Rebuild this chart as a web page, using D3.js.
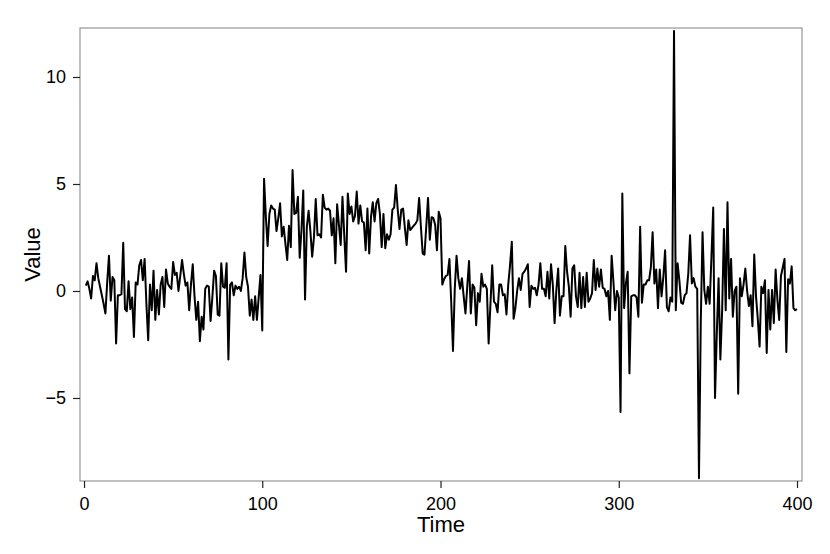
<!DOCTYPE html>
<head>
  <title>Value over Time</title>
  <style>
    body { margin: 0; background: #fff; }
    text { font-family: "Liberation Sans", Arial, sans-serif; }
  </style>
</head>
<body>
  <script src="https://cdn.jsdelivr.net/npm/d3@7"></script>
  <script>
    // values, one array per stretch of 100 time steps
    var seg1 = [0.25, 0.45, 0.1, -0.35, 0.7, 0.5, 1.3, 0.6, 0.2, -0.2,
      -0.6, -1.05, 0.4, 1.65, -0.45, 0.65, 0.5, -2.45, -0.2, -0.2,
      -0.15, 2.25, -0.85, -0.95, 0.45, -0.85, -0.3, -2.15, 0.4, 0.3,
      1.2, 1.45, 0.5, 1.5, -0.6, -2.3, 0.3, -0.9, 0.95, -1.35,
      0.05, -1.1, 0.3, 0.65, -0.75, 1.0, 0.35, 0.2, 0.1, 1.35,
      0.75, 0.85, 0.0, 0.7, 1.45, 0.8, 0.25, 0.4, -0.9, 0.3,
      1.25, -0.25, -1.35, -0.5, -2.35, -1.2, -1.8, 0.1, 0.25, 0.2,
      -1.4, -0.3, 0.95, 0.7, -1.1, -1.15, 1.3, 0.2, 0.15, 1.3,
      -3.2, 0.3, 0.4, -0.2, 0.25, 0.1, 0.2, 0.0, 0.6, 1.8,
      0.65, 0.2, -1.15, -0.4, -1.35, -0.25, -1.35, -0.3, 0.75, -1.85];
    var seg2 = [5.25, 3.5, 2.1, 3.6, 4.0, 3.85, 3.8, 2.8, 3.4, 4.1,
      2.55, 3.0, 2.2, 1.45, 3.05, 2.05, 5.65, 3.6, 3.65, 4.4,
      1.55, 2.85, 4.7, -0.4, 3.0, 3.75, 2.8, 1.6, 2.5, 4.3,
      2.6, 2.65, 2.5, 4.5, 3.9, 3.8, 3.85, 3.75, 2.6, 3.4,
      1.3, 4.05, 3.1, 2.15, 4.4, 2.6, 0.9, 4.55, 3.6, 3.95,
      3.25, 3.5, 4.65, 3.15, 4.0, 3.25, 3.2, 1.9, 3.85, 1.75,
      3.45, 4.15, 3.25, 4.1, 4.3, 3.6, 2.05, 3.6, 2.0, 2.65,
      2.4, 2.65, 3.8, 3.9, 4.95, 3.8, 2.9, 3.8, 3.85, 2.95,
      2.15, 3.3, 2.85, 2.95, 3.05, 3.15, 3.3, 4.35, 3.0, 1.75,
      1.7, 3.0, 4.35, 2.4, 3.45, 3.4, 3.1, 1.9, 3.7, 3.4];
    var seg3 = [0.3, 0.55, 0.7, 0.75, 1.5, -0.5, -2.8, 0.1, 1.65, 0.6,
      0.1, 0.6, -0.25, -1.05, 0.2, 1.4, -1.05, 0.3, 0.15, -1.6,
      -0.1, -0.5, 0.8, 0.2, 0.3, 0.1, -2.45, -0.65, 1.2, -0.5,
      -0.6, -1.0, 0.3, 0.3, -0.2, -0.15, -1.1, 0.3, 1.2, 2.3,
      -1.3, -0.8, 0.0, 0.6, 0.05, 0.8, 0.9, 1.05, 1.25, -0.75,
      0.25, 0.1, 0.15, -0.2, 0.3, 1.3, 0.1, 0.1, -0.25, 0.9,
      -0.35, 1.25, 0.3, -1.5, 0.05, 1.05, -1.15, -0.25, -0.25, 2.1,
      0.9, 0.2, -1.2, 1.05, 1.2, -0.25, -0.75, 0.85, -0.8, 0.65,
      -0.75, 0.85, -0.5, -0.35, -0.1, 1.45, 0.05, 1.05, 0.2, 1.0,
      0.15, 0.1, -0.25, 0.0, -1.35, 1.65, 0.45, -0.9, 0.0, -0.3];
    var seg4 = [-5.65, 4.55, -0.8, 0.35, 0.9, -3.85, -0.25, -0.2, -0.2, -0.3,
      -1.2, 3.0, -0.55, 0.3, 0.3, 0.5, 0.5, 1.1, 2.75, 0.35,
      1.0, -0.8, 1.0, -0.25, 0.65, 1.9, -0.75, -0.95, -0.3, -0.5,
      12.15, -0.9, 1.3, 0.5, -0.55, -0.6, -0.2, -0.1, 0.8, 2.6,
      0.35, 0.6, 0.2, 0.1, -8.75, -1.5, 2.75, 0.05, -0.6, 0.2,
      -0.6, 1.6, 3.9, -5.0, -2.0, 0.6, -3.2, -0.9, 2.9, -0.9,
      4.15, -0.35, 1.5, -1.2, 0.0, 0.2, -4.8, 0.6, -0.25, 0.3,
      1.05, 0.0, -0.7, -0.2, -1.65, 1.7, -0.25, -1.3, -2.6, 0.2,
      -0.1, 0.5, -2.9, 0.05, -1.8, 0.05, -1.5, 1.0, -0.4, -1.35,
      0.7, 1.1, 1.5, -2.85, 0.55, 0.35, 1.15, -0.8, -0.9, -0.85];
    var xTicks = [0, 100, 200, 300, 400];
    var yTicks = [-5, 0, 5, 10];

    var values = seg1.concat(seg2, seg3, seg4);
    var data = values.map(function(v, i) { return {time: i + 1, value: v}; });

    var marginLeft = 80, marginTop = 28,
        width = 722, height = 453;

    var x = d3.scaleLinear().domain([-2.25, 402.8]).range([0, width]);
    var y = d3.scaleLinear().domain([-8.88, 12.29]).range([height, 0]);

    var svg = d3.select("body").append("svg")
        .attr("width", 830)
        .attr("height", 554);

    var g = svg.append("g").attr("transform", "translate(" + marginLeft + "," + marginTop + ")");

    var line = d3.line()
        .x(function(d) { return x(d.time); })
        .y(function(d) { return y(d.value); });

    g.append("path")
        .datum(data)
        .attr("fill", "none")
        .attr("stroke", "#000")
        .attr("stroke-width", 2)
        .attr("stroke-linejoin", "round")
        .attr("d", line);

    // panel border
    g.append("rect")
        .attr("width", width)
        .attr("height", height)
        .attr("fill", "none")
        .attr("stroke", "#8c8c8c")
        .attr("stroke-width", 1.1);

    var xAxis = g.append("g")
        .attr("transform", "translate(0," + height + ")")
        .call(d3.axisBottom(x).tickValues(xTicks).tickSize(7).tickPadding(9));
    var yAxis = g.append("g")
        .call(d3.axisLeft(y).tickValues(yTicks).tickSize(7).tickPadding(7)
          .tickFormat(function(d) { return d < 0 ? "\u2212" + Math.abs(d) : d; }));

    [xAxis, yAxis].forEach(function(a) {
      a.select(".domain").remove();
      a.selectAll("line").attr("stroke", "#222").attr("stroke-width", 1.2);
      a.selectAll("text").style("font-size", "18px").attr("fill", "#000")
        .style("font-family", "'Liberation Sans', Arial, sans-serif");
    });

    svg.append("text")
        .attr("x", marginLeft + width / 2)
        .attr("y", 532)
        .attr("text-anchor", "middle")
        .style("font-size", "22px")
        .text("Time");

    svg.append("text")
        .attr("transform", "translate(40," + (marginTop + height / 2) + ") rotate(-90)")
        .attr("text-anchor", "middle")
        .style("font-size", "22px")
        .text("Value");
  </script>
</body>
